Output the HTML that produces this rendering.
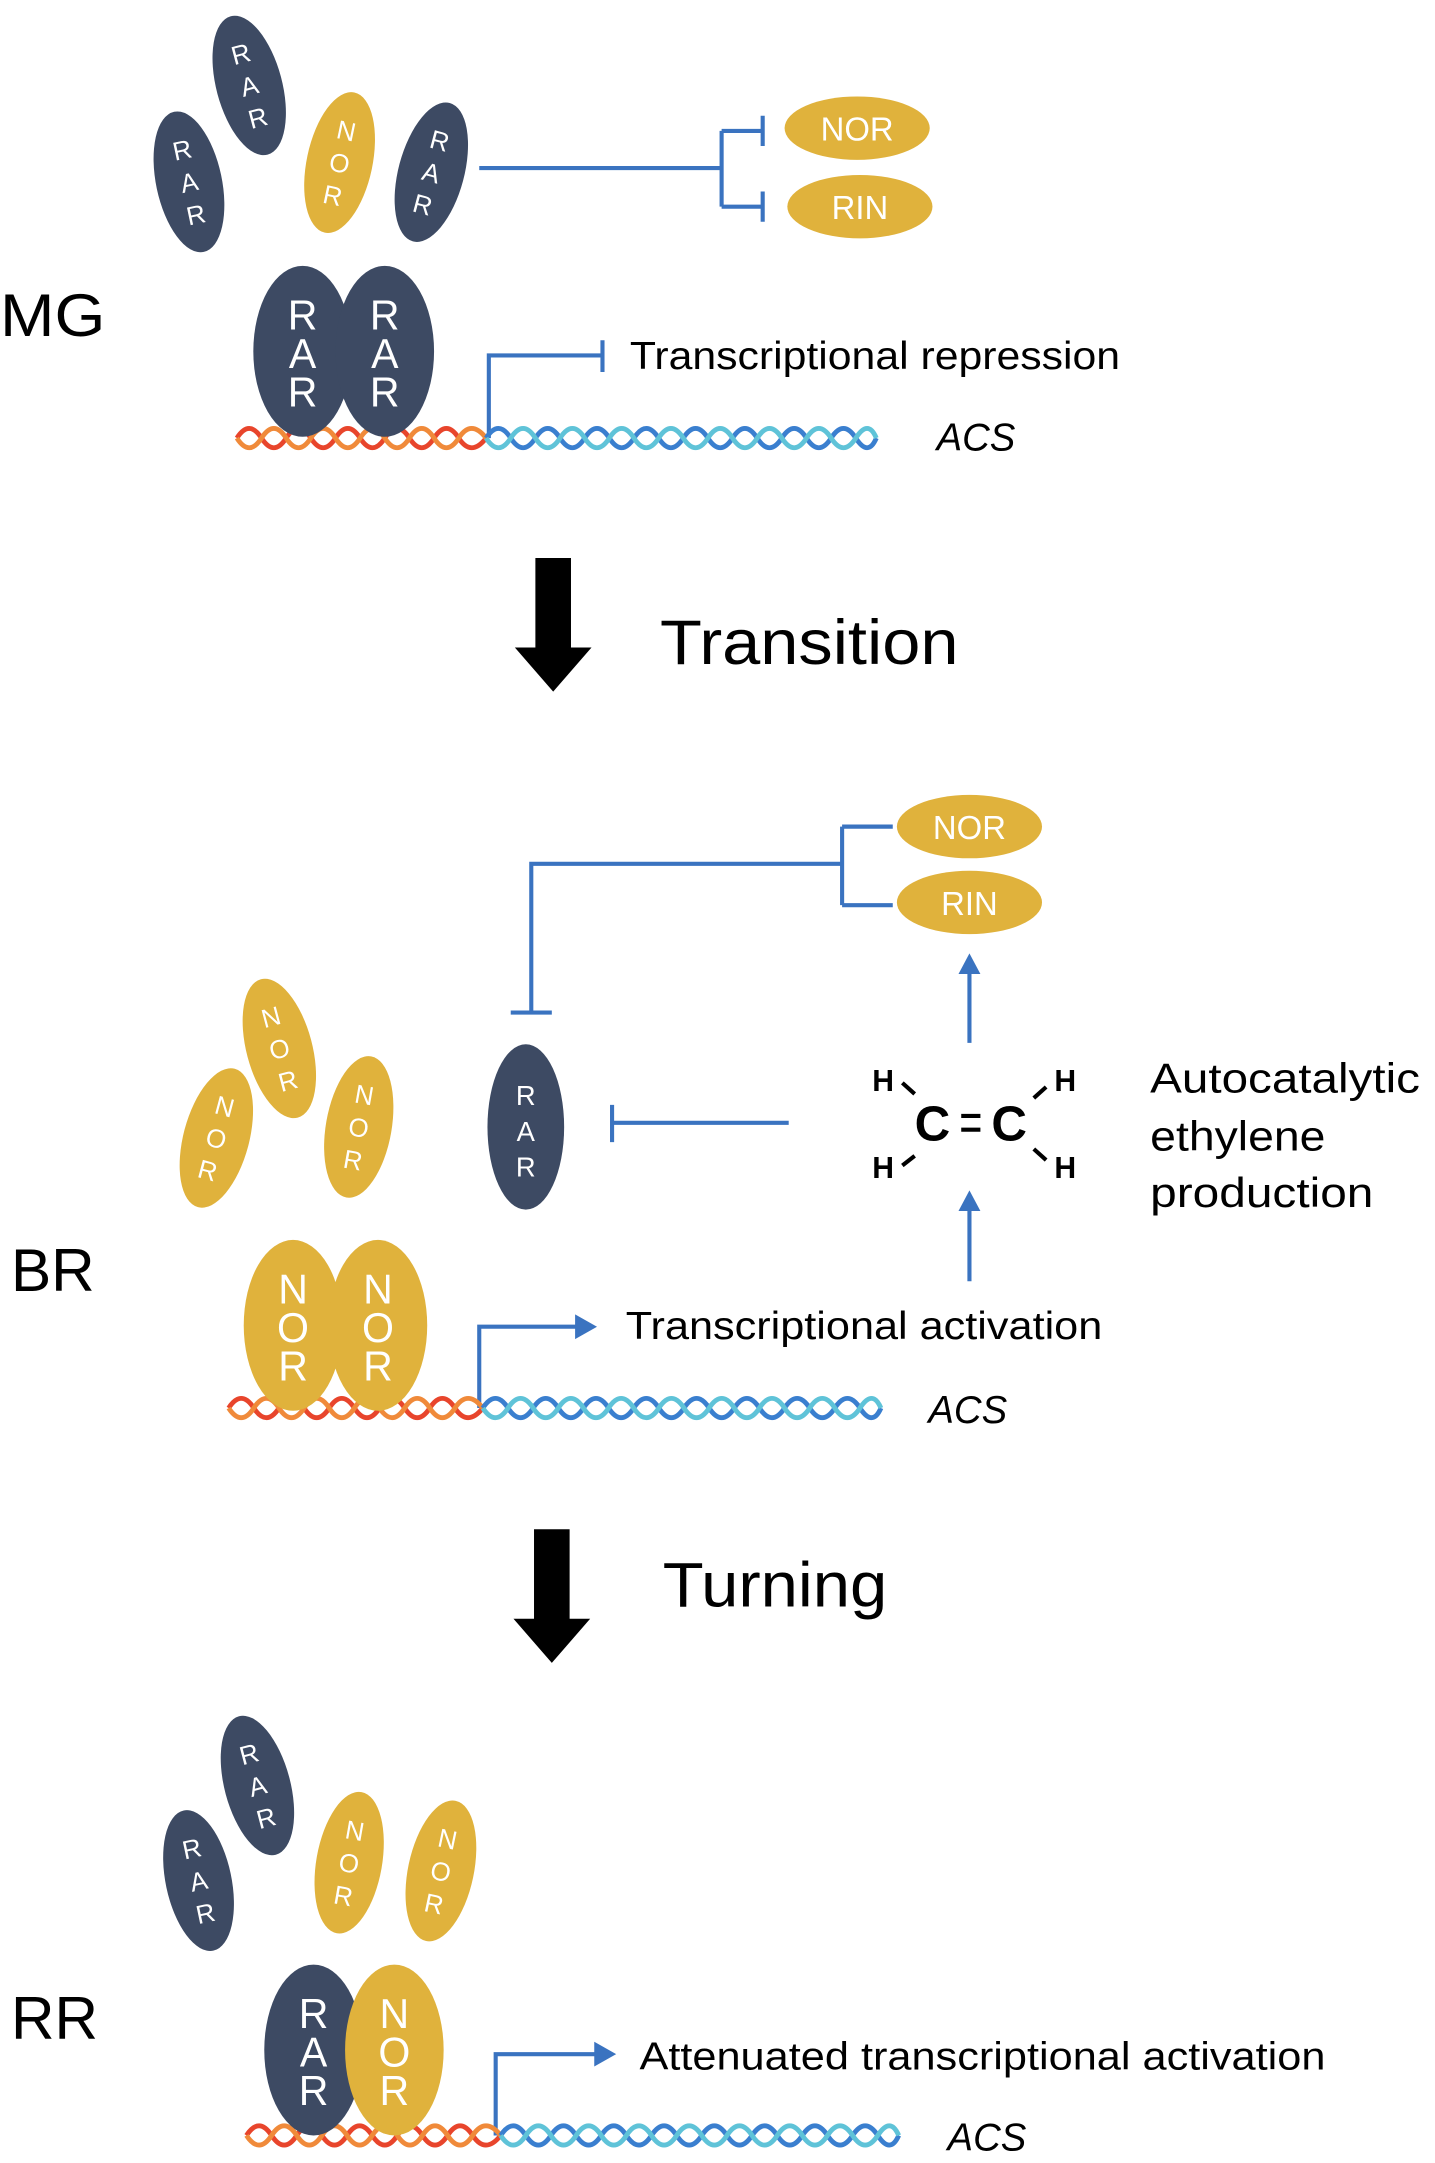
<!DOCTYPE html>
<html><head><meta charset="utf-8"><style>html,body{margin:0;padding:0;background:#fff}svg{display:block}</style></head>
<body>
<svg width="1435" height="2163" viewBox="0 0 1048 1570" preserveAspectRatio="none" xmlns="http://www.w3.org/2000/svg" font-family="Liberation Sans, sans-serif">
<defs>
<g id="sRAR"><ellipse rx="24" ry="52" fill="#3d4a63"/><g fill="#fff" font-size="19" text-anchor="middle"><text y="-17">R</text><text y="7">A</text><text y="31">R</text></g></g>
<g id="sNOR"><ellipse rx="24" ry="52" fill="#e0b23c"/><g fill="#fff" font-size="19" text-anchor="middle"><text y="-17">N</text><text y="7">O</text><text y="31">R</text></g></g>
<g id="bRAR"><ellipse rx="36" ry="62" fill="#3d4a63"/><g fill="#fff" font-size="30" text-anchor="middle"><text y="-16">R</text><text y="12">A</text><text y="40">R</text></g></g>
<g id="bNOR"><ellipse rx="36" ry="62" fill="#e0b23c"/><g fill="#fff" font-size="30" text-anchor="middle"><text y="-16">N</text><text y="12">O</text><text y="40">R</text></g></g>
<g id="dna">
<path d="M0 0 q9 -14 18 0 t18 0 t18 0 t18 0 t18 0 t18 0 t18 0 t18 0 t18 0 t20 0" fill="none" stroke="#e8452c" stroke-width="3.5"/>
<path d="M0 0 q9 14 18 0 t18 0 t18 0 t18 0 t18 0 t18 0 t18 0 t18 0 t18 0 t20 0" fill="none" stroke="#f08a3a" stroke-width="3.5"/>
<path d="M182 0 q9 -14 18 0 t18 0 t18 0 t18 0 t18 0 t18 0 t18 0 t18 0 t18 0 t18 0 t18 0 t18 0 t18 0 t18 0 t18 0 t15 0" fill="none" stroke="#3a7fcf" stroke-width="3.5"/>
<path d="M182 0 q9 14 18 0 t18 0 t18 0 t18 0 t18 0 t18 0 t18 0 t18 0 t18 0 t18 0 t18 0 t18 0 t18 0 t18 0 t18 0 t15 0" fill="none" stroke="#5fc3d8" stroke-width="3.5"/>
</g>
<g id="oval"><ellipse rx="53" ry="23" fill="#e0b23c"/></g>
</defs>
<g stroke="#3a73c0" stroke-width="3" fill="none">
<path d="M350 122 H527 M527 95 V150 M527 95 H557 M527 150 H557 M557 84 V106 M557 139 V161"/>
<path d="M357 318 V258 H440 M440 247 V270"/>
<path d="M388 735 V627 H615 M615 600 V657 M615 600 H652 M615 657 H652 M373 735 H403"/>
<path d="M576 815 H447 M447 802 V829"/>
<path d="M350 1022 V963 H422"/>
<path d="M708 757 V705 M708 930 V878"/>
<path d="M362 1550 V1491 H436"/>
</g>
<g fill="#3a73c0">
<path d="M436 963 l-16 -9 v18z"/>
<path d="M450 1491 l-16 -9 v18z"/>
<path d="M708 692 l-8 15 h16z"/>
<path d="M708 864 l-8 15 h16z"/>
</g>
<!-- MG -->
<use href="#sRAR" transform="translate(138,132) rotate(-12)"/>
<use href="#sRAR" transform="translate(182,62) rotate(-15)"/>
<use href="#sNOR" transform="translate(248,118) rotate(12)"/>
<use href="#sRAR" transform="translate(315,125) rotate(15)"/>
<use href="#oval" transform="translate(626,93)"/><use href="#oval" transform="translate(628,150)"/>
<g fill="#fff" font-size="24" text-anchor="middle"><text x="626" y="102">NOR</text><text x="628" y="159">RIN</text></g>
<text x="0" y="244" font-size="44" textLength="77" lengthAdjust="spacingAndGlyphs">MG</text>
<use href="#dna" transform="translate(173,318)"/>
<use href="#bRAR" transform="translate(221,255)"/><use href="#bRAR" transform="translate(281,255)"/>
<text x="460" y="268" font-size="28" textLength="358" lengthAdjust="spacingAndGlyphs">Transcriptional repression</text>
<text x="684" y="327" font-size="28" font-style="italic">ACS</text>
<path d="M391 405 h26 v65 h15 l-28 32 l-28 -32 h15z" fill="#000"/>
<text x="482" y="482" font-size="46" textLength="218" lengthAdjust="spacingAndGlyphs">Transition</text>
<!-- BR -->
<use href="#oval" transform="translate(708,600)"/><use href="#oval" transform="translate(708,655)"/>
<g fill="#fff" font-size="24" text-anchor="middle"><text x="708" y="609">NOR</text><text x="708" y="664">RIN</text></g>
<use href="#sNOR" transform="translate(204,761) rotate(-15)"/>
<use href="#sNOR" transform="translate(158,826) rotate(15)"/>
<use href="#sNOR" transform="translate(262,818) rotate(10)"/>
<g transform="translate(384,818)"><ellipse rx="28" ry="60" fill="#3d4a63"/><g fill="#fff" font-size="20" text-anchor="middle"><text y="-16">R</text><text y="10">A</text><text y="36">R</text></g></g>
<g font-weight="bold" fill="#000">
<text x="668" y="828" font-size="36">C</text><text x="724" y="828" font-size="36">C</text>
<text x="637" y="792" font-size="22">H</text><text x="637" y="855" font-size="22">H</text>
<text x="770" y="792" font-size="22">H</text><text x="770" y="855" font-size="22">H</text>
</g>
<g stroke="#000" stroke-width="3"><path d="M702 810 h14 M702 820 h14 M659 786 l9 8 M659 846 l9 -7 M755 797 l9 -8 M755 834 l9 8"/></g>
<g font-size="30"><text x="840" y="793" textLength="197" lengthAdjust="spacingAndGlyphs">Autocatalytic</text><text x="840" y="835" textLength="128" lengthAdjust="spacingAndGlyphs">ethylene</text><text x="840" y="876" textLength="163" lengthAdjust="spacingAndGlyphs">production</text></g>
<text x="8" y="937" font-size="44">BR</text>
<use href="#dna" transform="translate(167,1022) scale(1.02,1)"/>
<use href="#bNOR" transform="translate(214,962)"/><use href="#bNOR" transform="translate(276,962)"/>
<text x="457" y="972" font-size="28" textLength="348" lengthAdjust="spacingAndGlyphs">Transcriptional activation</text>
<text x="678" y="1033" font-size="28" font-style="italic">ACS</text>
<path d="M390 1110 h26 v65 h15 l-28 32 l-28 -32 h15z" fill="#000"/>
<text x="484" y="1166" font-size="46" textLength="164" lengthAdjust="spacingAndGlyphs">Turning</text>
<!-- RR -->
<use href="#sRAR" transform="translate(145,1365) rotate(-12)"/>
<use href="#sRAR" transform="translate(188,1296) rotate(-15)"/>
<use href="#sNOR" transform="translate(255,1352) rotate(10)"/>
<use href="#sNOR" transform="translate(322,1358) rotate(12)"/>
<text x="8" y="1480" font-size="44">RR</text>
<use href="#dna" transform="translate(180,1550) scale(1.02,1)"/>
<use href="#bRAR" transform="translate(229,1488)"/><use href="#bNOR" transform="translate(288,1488)"/>
<text x="467" y="1502" font-size="28" textLength="501" lengthAdjust="spacingAndGlyphs">Attenuated transcriptional activation</text>
<text x="692" y="1561" font-size="28" font-style="italic">ACS</text>
</svg>
</body></html>
